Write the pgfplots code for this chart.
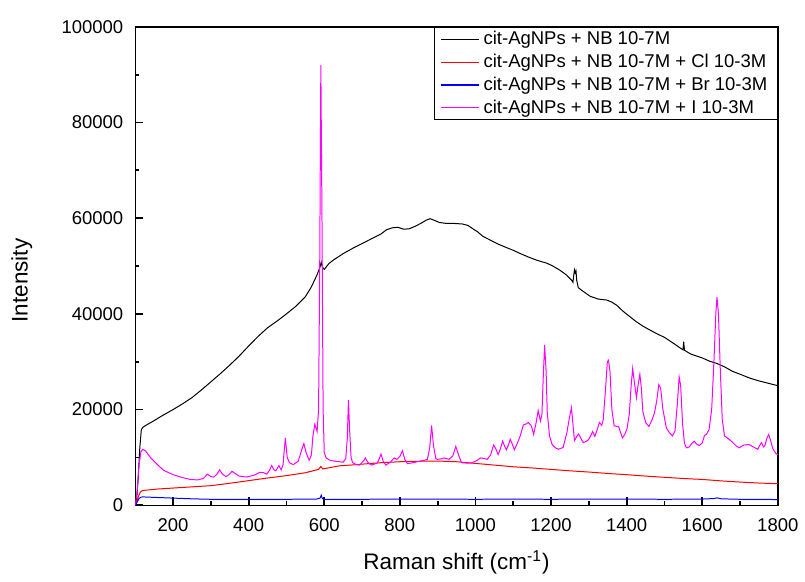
\documentclass[border=0pt]{standalone}
\usepackage{fontspec}
\setmainfont{Liberation Sans}
\usepackage{pgfplots}
\pgfplotsset{compat=1.18}

\definecolor{spmag}{RGB}{255,0,255}

\begin{document}
\begin{tikzpicture}
\begin{axis}[
  scale only axis,
  width=323pt, height=240.5pt,
  xmin=100, xmax=1800, ymin=0, ymax=100000,
  xtick={200,400,...,1800},
  ytick={0,20000,...,100000},
  minor x tick num=1, minor y tick num=1,
  xtick pos=bottom, ytick pos=left,
  tick align=inside,
  major tick length=4pt, minor tick length=2pt,
  every tick/.style={black, line width=0.9pt},
  axis line style={line width=0.75pt},
  scaled ticks=false,
  /pgf/number format/fixed,
  /pgf/number format/precision=0,
  /pgf/number format/assume math mode=true,
  /pgf/number format/set thousands separator={},
  tick label style={font=\fontsize{9.3}{11}\selectfont},
  xticklabel style={yshift=-3pt},
  yticklabel style={xshift=-2.5pt},
  label style={font=\fontsize{11.3}{13}\selectfont},
  xlabel={Raman shift (cm\textsuperscript{-1})},
  ylabel={Intensity},
  xlabel style={at={(axis description cs:0.5,-0.12)}, anchor=center},
  ylabel style={at={(axis description cs:-0.1765,0.47)}, anchor=center},
  legend style={at={(axis description cs:1,1)}, anchor=north east,
    draw=black, line width=0.5pt, fill=white,
    font=\fontsize{9.3}{11}\selectfont,
    inner xsep=3pt, inner ysep=0pt, row sep=-0.8pt,
    cells={anchor=west}},
  legend image code/.code={\draw[#1, line width=0.65pt] (0pt,0pt) -- (19pt,0pt);},
  legend cell align=left,
]

% cit-AgNPs + NB
\addplot[black, line width=0.5pt] coordinates {
(100,0) (104,1500) (108,6000) (112,12000) (116,15800) (120,16300) (130,16800)
(150,17700) (175,18900) (200,20000) (225,21200) (250,22500) (275,24100)
(300,25800) (325,27500) (350,29300) (375,31200) (400,33300) (425,35300)
(450,37100) (475,38500) (500,40000) (525,41600) (550,43600) (565,45500)
(580,48000) (588,49600) (592,50800) (595,49800) (600,49300) (612,50500)
(625,51300) (650,52600) (675,53700) (700,54700) (725,55700) (750,56700)
(765,57600) (780,58000) (795,58100) (810,57700) (825,57800) (840,58300)
(855,58900) (870,59600) (880,59900) (890,59600) (905,59100) (925,58900)
(945,58900) (965,58800) (980,58500) (995,57700) (1005,57200) (1020,56200)
(1040,55400) (1060,54600) (1084,53800) (1100,53300) (1119,52600) (1140,51900)
(1163,51200) (1189,50600) (1205,50000) (1224,49100) (1240,48200) (1255,47000)
(1258,46600) (1260,48000) (1262,49200) (1264,48600) (1266,49000) (1268,47000)
(1272,45500) (1280,45000) (1303,43700) (1325,43100) (1347,42900) (1360,42500)
(1374,41800) (1390,40600) (1409,39400) (1425,38400) (1444,37400) (1460,36700)
(1479,35900) (1500,35100) (1525,33800) (1545,32700) (1549,32500) (1551,34200)
(1553,32400) (1570,31600) (1600,30800) (1620,30100) (1637,29700) (1660,28900)
(1680,28000) (1700,27400) (1725,26600) (1750,26000) (1775,25500) (1800,25000)
};
\addlegendentry{cit-AgNPs + NB 10-7M}

% + Cl
\addplot[red, line width=0.5pt] coordinates {
(100,0) (105,1000) (110,2200) (115,2900) (120,3100) (140,3250) (160,3400)
(180,3500) (200,3600) (250,3850) (300,4100) (350,4600) (400,5150) (450,5700)
(500,6200) (550,6800) (585,7500) (591,8100) (596,7600) (610,7800) (640,8250)
(670,8400) (700,8600) (750,8900) (800,9100) (850,9200) (900,9250) (950,9100)
(1000,8750) (1050,8400) (1100,8050) (1150,7800) (1200,7500) (1250,7200)
(1300,6950) (1350,6650) (1400,6400) (1450,6100) (1500,5850) (1550,5600)
(1600,5400) (1650,5100) (1700,4850) (1750,4650) (1800,4500)
};
\addlegendentry{cit-AgNPs + NB 10-7M + Cl 10-3M}

% + Br
\addplot[blue, line width=0.5pt] coordinates {
(100,0) (105,700) (110,1400) (115,1700) (120,1750) (150,1650) (200,1500)
(250,1350) (300,1250) (400,1250) (500,1250) (580,1300) (589,1500) (592,2100)
(595,1400) (600,1250) (700,1250) (800,1300) (900,1300) (1000,1250) (1100,1300)
(1200,1250) (1300,1300) (1400,1300) (1500,1250) (1600,1300) (1630,1400)
(1640,1550) (1650,1350) (1700,1250) (1800,1200)
};
\addlegendentry{cit-AgNPs + NB 10-7M + Br 10-3M}

% + I
\addplot[spmag, line width=0.5pt] coordinates {
(100,0) (105,3000) (110,8500) (115,11200) (120,11700) (128,11300) (140,10000)
(160,8400) (175,7300) (200,6400) (220,5900) (245,5400) (265,5300) (280,5600)
(291,6500) (300,6000) (308,5900) (316,6500) (323,7400) (331,6500) (340,6000)
(348,6400) (356,7100) (365,6600) (375,6100) (395,5900) (415,6300) (430,6900)
(440,6800) (448,6500) (455,7300) (461,8300) (467,7400) (472,7200) (480,8300)
(486,7400) (491,8500) (497,14100) (502,10000) (508,8900) (518,8500) (531,9200)
(540,11500) (546,12900) (552,11000) (560,9400) (566,10500) (570,14500)
(575,16900) (581,15400) (585,20000) (588,50000) (591,92000) (594,60000)
(597,20000) (600,11000) (605,9900) (615,9400) (630,9200) (650,9000) (657,9800)
(661,14000) (664,22000) (667,16000) (671,10000) (675,8900) (685,8500)
(693,8400) (703,9200) (709,9900) (715,9000) (724,8400) (740,8800) (745,9600)
(750,10700) (756,9200) (763,8400) (775,9000) (785,9900) (792,9600) (800,10200)
(807,11400) (813,9600) (820,8700) (835,8900) (851,9200) (865,9400) (873,9600)
(879,12000) (884,16700) (889,12500) (895,9800) (899,9600) (910,9700)
(917,9900) (930,9600) (940,10300) (948,12300) (955,10600) (963,8900)
(980,8800) (991,8900) (1005,9400) (1013,9900) (1022,9800) (1031,9600)
(1040,10500) (1048,12600) (1054,11800) (1060,10600) (1066,11800) (1072,13400)
(1078,12200) (1082,11600) (1088,12800) (1092,13800) (1098,12700) (1103,11600)
(1110,12800) (1118,14400) (1127,16800) (1134,17000) (1140,17300) (1148,16600)
(1154,14800) (1160,17000) (1166,19800) (1172,17600) (1176,19000) (1179,26000)
(1183,33500) (1187,28000) (1190,19500) (1196,14500) (1203,12700) (1212,12000)
(1220,11700) (1232,12100) (1242,15200) (1248,18000) (1254,20400) (1258,17000)
(1262,13500) (1268,14400) (1273,14900) (1279,14000) (1285,13100) (1292,13300)
(1299,13700) (1305,14500) (1310,15400) (1316,14400) (1322,15800) (1328,17300)
(1334,16700) (1338,17800) (1344,24000) (1349,30000) (1352,30300) (1356,28000)
(1361,20000) (1367,16600) (1373,16500) (1379,16400) (1384,15200) (1389,14100)
(1395,14800) (1401,16000) (1407,19000) (1412,25000) (1416,28600) (1420,26000)
(1426,22500) (1431,25500) (1435,27400) (1439,24500) (1443,19500) (1451,17200)
(1459,16500) (1467,17800) (1474,19400) (1480,22000) (1485,25200) (1490,24500)
(1496,20000) (1505,16200) (1513,15200) (1521,14500) (1528,15500) (1534,21000)
(1539,26800) (1543,25000) (1548,17000) (1553,13000) (1558,12000) (1566,12200)
(1572,12900) (1579,13400) (1585,12800) (1592,12500) (1600,13000) (1606,14600)
(1611,14800) (1618,15800) (1625,20000) (1631,30000) (1636,40000) (1639,43500)
(1643,40000) (1648,28000) (1653,18000) (1659,14500) (1666,14100) (1674,13600)
(1681,13100) (1690,12400) (1698,12000) (1710,12600) (1724,12700) (1735,12200)
(1747,11700) (1752,12500) (1757,13100) (1762,12200) (1766,12500) (1771,14000)
(1776,14800) (1781,13500) (1787,11800) (1795,10800) (1800,10600)
};
\addlegendentry{cit-AgNPs + NB 10-7M + I 10-3M}

\end{axis}
% page margins around the axis box
\path (current axis.south west) ++(-68pt,-35pt);
\path (current axis.north east) ++(11.5pt,13.5pt);
\end{tikzpicture}
\end{document}
